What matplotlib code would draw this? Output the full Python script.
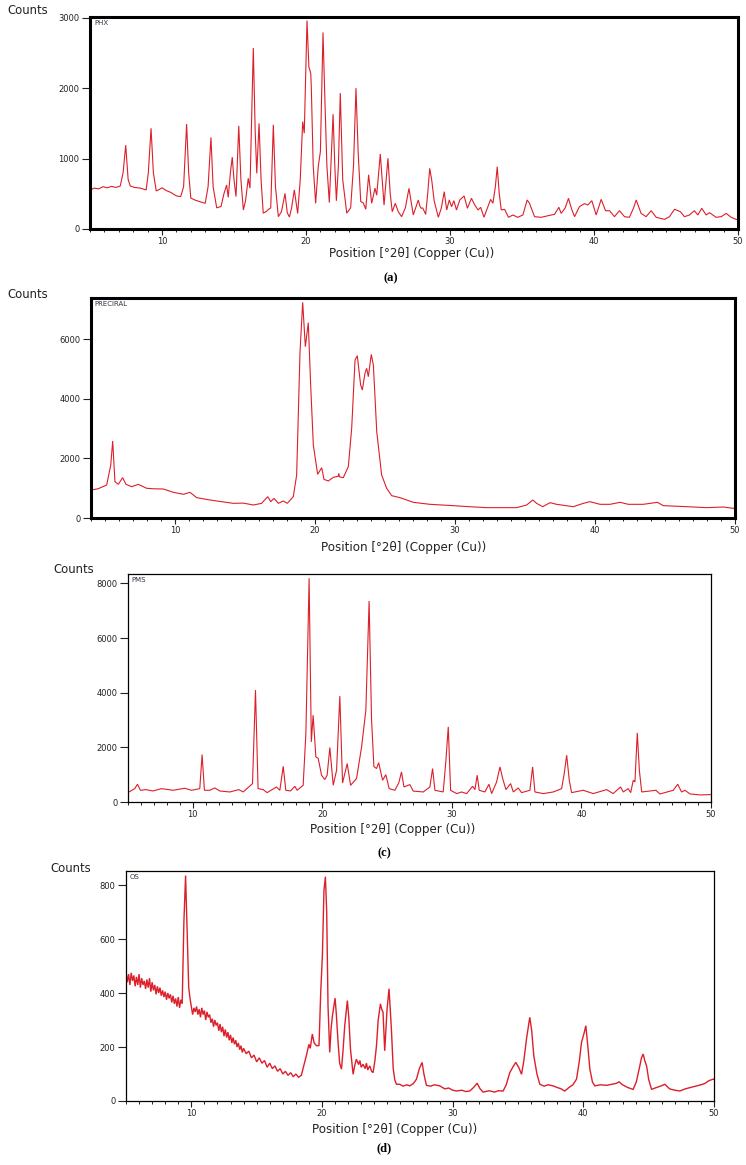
from __future__ import annotations

import matplotlib

matplotlib.use("Agg")
import matplotlib.pyplot as plt
from matplotlib.ticker import MultipleLocator

# ---- data (2theta in degrees, intensity in counts) ----
phx_two_theta = [
    5.0, 5.3, 5.6, 5.9, 6.2, 6.5, 6.8, 7.1, 7.3, 7.48, 7.65, 7.8, 8.1, 8.5, 8.9, 9.05, 9.24, 9.4,
    9.6, 9.8, 10.0, 10.3, 10.6, 11.0, 11.3, 11.5, 11.71, 11.85, 12.0, 12.3, 12.6, 13.0, 13.2, 13.4,
    13.55, 13.8, 14.1, 14.3, 14.49, 14.6, 14.75, 14.88, 15.0, 15.14, 15.33, 15.48, 15.65, 15.8,
    15.99, 16.11, 16.34, 16.47, 16.58, 16.74, 16.88, 17.03, 17.25, 17.4, 17.55, 17.73, 17.88,
    18.08, 18.3, 18.54, 18.7, 18.85, 19.0, 19.19, 19.3, 19.42, 19.6, 19.77, 19.88, 20.07, 20.2,
    20.33, 20.37, 20.5, 20.67, 20.85, 21.0, 21.18, 21.32, 21.45, 21.62, 21.88, 22.0, 22.11, 22.25,
    22.38, 22.55, 22.83, 23.1, 23.3, 23.47, 23.62, 23.8, 23.98, 24.15, 24.35, 24.56, 24.79, 24.91,
    25.16, 25.42, 25.69, 25.85, 25.99, 26.2, 26.4, 26.64, 26.9, 27.15, 27.45, 27.8, 27.9, 27.99,
    28.1, 28.31, 28.45, 28.59, 28.73, 28.9, 29.19, 29.4, 29.6, 29.77, 29.95, 30.11, 30.27, 30.45,
    30.68, 30.98, 31.21, 31.49, 31.72, 31.95, 32.13, 32.36, 32.6, 32.82, 32.98, 33.15, 33.28,
    33.42, 33.56, 33.79, 34.06, 34.37, 34.71, 35.06, 35.36, 35.52, 35.87, 36.33, 37.03, 37.26,
    37.56, 37.72, 38.0, 38.23, 38.45, 38.65, 38.99, 39.34, 39.57, 39.85, 40.15, 40.5, 40.8, 41.08,
    41.42, 41.77, 42.12, 42.46, 42.75, 42.93, 43.27, 43.62, 43.97, 44.32, 44.9, 45.24, 45.59,
    46.0, 46.28, 46.63, 46.97, 47.21, 47.48, 47.79, 48.02, 48.48, 48.83, 49.18, 49.52, 49.87, 50.0,
]
phx_counts = [
    555, 580, 570, 600, 585, 605, 590, 610, 800, 1190, 700, 610, 590, 580, 555, 800, 1430, 800,
    540, 560, 585, 545, 520, 470, 460, 600, 1490, 800, 440, 410, 390, 365, 600, 1300,
    600, 300, 320, 500, 625, 450, 800, 1020, 700, 460, 1465, 700, 270, 400,
    720, 580, 2570, 1400, 790, 1500, 700, 225, 250, 280, 300, 1480, 600,
    175, 250, 505, 230, 170, 300, 555, 400, 220, 700, 1525, 1360, 2960, 2300,
    2210, 2000, 900, 365, 885, 1100, 2790, 1780, 900, 375, 1630, 900, 400, 900,
    1930, 700, 225, 300, 900, 2000, 1100, 390, 370, 280, 770, 365, 580, 480,
    1065, 340, 1005, 500, 245, 365, 250, 175, 300, 577, 200, 412, 330, 294,
    300, 208, 500, 861, 696, 400, 166, 300, 530, 270, 412, 317, 402, 270,
    412, 469, 294, 436, 341, 270, 308, 166, 300, 421, 365, 600, 885,
    500, 270, 280, 166, 199, 166, 199, 412, 365, 175, 166, 199, 208,
    308, 222, 300, 436, 280, 175, 317, 360, 341, 402, 199, 421, 260, 260,
    175, 260, 175, 166, 300, 412, 222, 175, 260, 166, 137, 175, 280,
    246, 175, 199, 260, 199, 294, 199, 232, 166, 175, 222, 166, 137, 130,
]

precir_two_theta = [
    4.0, 4.5, 5.12, 5.41, 5.55, 5.71, 5.95, 6.26, 6.5, 6.9, 7.38, 7.98, 8.5, 9.17, 9.88, 10.6,
    11.07, 11.55, 12.3, 12.98, 13.6, 14.17, 14.88, 15.6, 16.19, 16.62, 16.84, 17.07, 17.38, 17.74,
    18.02, 18.45, 18.69, 18.93, 19.12, 19.31, 19.52, 19.69, 19.88, 20.19, 20.48, 20.64, 20.95,
    21.31, 21.66, 21.7, 21.75, 22.02, 22.38, 22.62, 22.86, 23.02, 23.26, 23.38, 23.57, 23.69,
    23.81, 24.02, 24.17, 24.41, 24.76, 25.12, 25.48, 26.07, 27.02, 28.21, 29.88, 31.0, 32.26,
    34.4, 35.12, 35.55, 35.83, 36.26, 36.79, 37.26, 38.45, 39.17, 39.64, 40.36, 41.07, 41.79,
    42.38, 43.45, 44.45, 44.88, 46.55, 47.98, 49.17, 49.88, 50.0,
]
precir_counts = [
    940, 980, 1107, 1779, 2584, 1219, 1130, 1353, 1130, 1051, 1130, 996, 980, 973, 862, 795,
    862, 683, 620, 571, 530, 492, 500, 436, 492, 716, 548, 660, 492, 571,
    492, 716, 1443, 5581, 7238, 5749, 6555, 4463, 2450, 1466, 1688, 1298, 1242,
    1366, 1399, 1500, 1380, 1353, 1722, 3010, 5302, 5447, 4463, 4296, 4856, 5023,
    4742, 5490, 5130, 2897, 1443, 996, 749, 683, 526, 459, 414, 380, 347,
    347, 436, 604, 492, 380, 514, 459, 380, 492, 548, 459, 459, 526,
    459, 459, 526, 414, 380, 347, 369, 324, 330,
]

pms_two_theta = [
    5.0, 5.08, 5.52, 5.73, 5.96, 6.37, 6.93, 7.58, 8.48, 9.38, 9.9, 10.54, 10.72, 10.9, 11.31,
    11.7, 12.08, 12.86, 13.55, 13.89, 14.61, 14.84, 15.04, 15.43, 15.74, 16.46, 16.72, 16.98,
    17.18, 17.54, 17.88, 18.05, 18.52, 18.73, 18.98, 19.15, 19.29, 19.5, 19.68, 19.94, 20.19,
    20.37, 20.58, 20.84, 21.1, 21.35, 21.56, 21.92, 22.18, 22.64, 23.03, 23.36, 23.61, 23.8,
    23.98, 24.18, 24.35, 24.65, 24.9, 25.16, 25.6, 25.9, 26.11, 26.3, 26.76, 27.01, 27.79, 28.3,
    28.51, 28.69, 29.33, 29.54, 29.72, 29.9, 30.37, 30.75, 31.14, 31.6, 31.78, 31.95, 32.11,
    32.55, 32.86, 33.07, 33.45, 33.71, 33.92, 34.17, 34.53, 34.74, 35.12, 35.38, 36.02, 36.23,
    36.41, 37.05, 37.82, 38.47, 38.67, 38.86, 39.06, 39.24, 40.14, 40.91, 41.94, 42.45, 43.02,
    43.23, 43.61, 43.8, 44.0, 44.13, 44.31, 44.47, 44.65, 45.75, 46.06, 47.09, 47.43, 47.73,
    47.99, 48.38, 49.15, 50.0,
]
pms_counts = [
    360, 367, 489, 649, 429, 453, 404, 489, 429, 502, 429, 489, 1737, 429, 429,
    514, 404, 367, 453, 367, 673, 4095, 489, 453, 343, 550, 429, 1308,
    429, 404, 575, 429, 612, 2507, 8190, 2199, 3178, 1649, 1600, 979, 821,
    979, 1994, 612, 1162, 3874, 696, 1407, 612, 858, 2016, 3361, 7356, 3000,
    1300, 1224, 1440, 795, 1000, 489, 429, 700, 1100, 550, 637, 400, 367, 550,
    1224, 429, 367, 1528, 2749, 429, 308, 367, 308, 575, 453, 979, 429,
    367, 649, 308, 733, 1283, 858, 453, 673, 367, 514, 343, 429, 1283,
    367, 308, 367, 489, 1040, 1712, 795, 343, 429, 308, 453, 308, 550,
    367, 489, 343, 795, 733, 2529, 1162, 367, 429, 294, 429, 649, 367,
    429, 294, 259, 270,
]

os_two_theta = [
    5.0, 5.1, 5.2, 5.3, 5.4, 5.5, 5.6, 5.7, 5.8, 5.9, 6.0, 6.1, 6.2, 6.3, 6.4, 6.5, 6.6, 6.7,
    6.8, 6.9, 7.0, 7.1, 7.2, 7.3, 7.4, 7.5, 7.6, 7.7, 7.8, 7.9, 8.0, 8.1, 8.2, 8.3, 8.4, 8.5,
    8.6, 8.7, 8.8, 8.9, 9.0, 9.1, 9.2, 9.3, 9.43, 9.56, 9.69, 9.8, 9.9, 10.0, 10.1, 10.2, 10.3,
    10.4, 10.5, 10.6, 10.7, 10.8, 10.9, 11.0, 11.1, 11.2, 11.3, 11.4, 11.5, 11.6, 11.7, 11.8,
    11.9, 12.0, 12.1, 12.2, 12.3, 12.4, 12.5, 12.6, 12.7, 12.8, 12.9, 13.0, 13.1, 13.2, 13.3,
    13.4, 13.5, 13.6, 13.7, 13.8, 13.9, 14.0, 14.2, 14.4, 14.6, 14.8, 15.0, 15.2, 15.4, 15.6,
    15.8, 16.0, 16.2, 16.4, 16.6, 16.8, 17.0, 17.2, 17.4, 17.6, 17.8, 18.0, 18.2, 18.42, 18.6,
    18.8, 19.0, 19.1, 19.26, 19.4, 19.57, 19.77, 19.9, 20.03, 20.15, 20.26, 20.36, 20.46, 20.59,
    20.7, 20.8, 21.0, 21.1, 21.23, 21.35, 21.49, 21.6, 21.74, 21.94, 22.05, 22.18, 22.38, 22.5,
    22.63, 22.8, 22.9, 23.0, 23.14, 23.3, 23.4, 23.5, 23.65, 23.8, 23.91, 24.05, 24.17, 24.3,
    24.47, 24.57, 24.67, 24.8, 24.98, 25.13, 25.22, 25.31, 25.45, 25.57, 25.7, 25.95, 26.2,
    26.5, 26.72, 27.0, 27.23, 27.45, 27.66, 27.8, 27.99, 28.3, 28.6, 29.01, 29.4, 29.7, 30.0,
    30.29, 30.7, 31.0, 31.31, 31.6, 31.87, 32.1, 32.33, 32.8, 33.2, 33.5, 33.86, 34.1, 34.37,
    34.6, 34.83, 35.05, 35.27, 35.45, 35.65, 35.9, 36.05, 36.21, 36.45, 36.67, 37.0, 37.3,
    37.69, 38.0, 38.3, 38.58, 38.9, 39.2, 39.48, 39.7, 39.86, 40.05, 40.19, 40.35, 40.5, 40.7,
    40.88, 41.3, 41.78, 42.2, 42.5, 42.74, 43.0, 43.4, 43.81, 44.05, 44.27, 44.45, 44.58, 44.7,
    44.84, 45.0, 45.22, 45.6, 45.9, 46.24, 46.6, 47.0, 47.39, 47.8, 48.2, 48.67, 49.0, 49.3,
    49.6, 49.94, 50.0,
]
os_counts = [
    480, 440, 470, 430, 475, 445, 465, 425, 460, 430, 470, 420, 455, 430, 445, 415, 450, 420,
    455, 405, 440, 410, 430, 395, 425, 400, 420, 390, 410, 385, 405, 375, 400, 380, 395, 365,
    390, 360, 380, 350, 385, 345, 375, 360, 663, 835, 602, 420, 380, 350, 320, 345, 330,
    350, 320, 340, 310, 345, 320, 335, 300, 330, 310, 320, 290, 305, 275, 300,
    280, 290, 260, 285, 255, 275, 240, 265, 235, 255, 225, 245, 215, 235, 210,
    225, 200, 215, 190, 205, 180, 195, 175, 185, 160, 170, 145, 160, 140, 150,
    125, 140, 120, 130, 110, 120, 100, 110, 95, 105, 90, 100, 88, 95, 130,
    167, 210, 195, 248, 215, 205, 205, 400, 540, 780, 831, 700, 353, 180,
    270, 316, 381, 320, 217, 140, 118, 180, 279, 372, 310, 192, 99, 130,
    155, 135, 150, 125, 136, 120, 140, 115, 130, 110, 105, 150, 205, 300,
    360, 340, 329, 186, 341, 416, 340, 267, 120, 78, 62, 62, 55,
    60, 56, 65, 81, 120, 143, 100, 58, 55, 60, 56, 45, 48, 40,
    37, 40, 35, 37, 50, 66, 45, 33, 38, 33, 38, 37, 60, 105,
    125, 143, 125, 99, 150, 230, 310, 260, 167, 100, 62, 55, 60,
    56, 50, 45, 37, 50, 60, 81, 150, 217, 250, 279, 200, 118, 70,
    56, 60, 58, 62, 65, 71, 60, 50, 43, 70, 118, 160, 174, 150,
    130, 80, 43, 50, 55, 62, 45, 40, 37, 45, 50, 56, 60, 65,
    75, 81, 80,
]

phx_yticks = [0, 1000, 2000, 3000]
precir_yticks = [0, 2000, 4000, 6000]
pms_yticks = [0, 2000, 4000, 6000, 8000]
os_yticks = [0, 200, 400, 600, 800]

FIG_W, FIG_H = 746, 1165
LINE_COLOR = "#dc1f2b"
TEXT_COLOR = "#222222"
X_LABEL = "Position [°2θ] (Copper (Cu))"


def _rect(left, top, right, bottom):
    """Pixel box -> figure fraction rect."""
    return [left / FIG_W, 1 - bottom / FIG_H, (right - left) / FIG_W, (bottom - top) / FIG_H]


def _fig_text(fig, xy, text, **kwargs):
    return fig.text(xy[0] / FIG_W, 1 - xy[1] / FIG_H, text, ha="center", va="center", **kwargs)


def _draw_pattern(fig, box, two_theta, counts, *, name, xlim, ylim, yticks, spine_width,
                  xlabel_xy, counts_xy, tag=None, tag_xy=None, lw=0.8):
    ax = fig.add_axes(_rect(*box))
    ax.plot(two_theta, counts, color=LINE_COLOR, lw=lw, solid_joinstyle="miter")
    ax.set_xlim(*xlim)
    ax.set_ylim(*ylim)
    ax.xaxis.set_major_locator(MultipleLocator(10))
    ax.xaxis.set_minor_locator(MultipleLocator(1))
    ax.set_yticks(yticks)
    ax.tick_params(axis="x", which="major", direction="out", length=4, width=0.8,
                   labelsize=6, pad=2, colors=TEXT_COLOR)
    ax.tick_params(axis="x", which="minor", direction="out", length=2.5, width=0.6)
    ax.tick_params(axis="y", direction="out", length=6, width=0.8, labelsize=6, pad=1.5,
                   colors=TEXT_COLOR)
    for spine in ax.spines.values():
        spine.set_linewidth(spine_width)
        spine.set_color("black")
    ax.text(0.006, 0.985, name, transform=ax.transAxes, fontsize=5, va="top", ha="left",
            color="#333344")

    _fig_text(fig, xlabel_xy, X_LABEL, fontsize=8.6, color=TEXT_COLOR)
    _fig_text(fig, counts_xy, "Counts", fontsize=8.4, color=TEXT_COLOR)
    if tag:
        _fig_text(fig, tag_xy, tag, fontsize=9, family="Liberation Serif", weight="bold")
    return ax


def main():
    fig = plt.figure(figsize=(FIG_W / 100, FIG_H / 100), dpi=100)

    _draw_pattern(fig, (90, 17, 738, 229), phx_two_theta, phx_counts, name="PHX",
                  xlim=(5, 50), ylim=(0, 3010), yticks=phx_yticks, spine_width=2.2,
                  xlabel_xy=(412, 254), counts_xy=(28, 11), tag="(a)", tag_xy=(391, 278))
    _draw_pattern(fig, (91, 298, 735, 518), precir_two_theta, precir_counts, name="PRECIRAL",
                  xlim=(4, 50), ylim=(0, 7383), yticks=precir_yticks, spine_width=2.2,
                  xlabel_xy=(404, 548), counts_xy=(28, 295))
    _draw_pattern(fig, (128, 574, 711, 802), pms_two_theta, pms_counts, name="PMS",
                  xlim=(5, 50), ylim=(0, 8344), yticks=pms_yticks, spine_width=0.9,
                  xlabel_xy=(393, 830), counts_xy=(74, 569), tag="(c)", tag_xy=(384, 853))
    _draw_pattern(fig, (126, 871, 714, 1101), os_two_theta, os_counts, name="OS",
                  xlim=(5, 50), ylim=(0, 852), yticks=os_yticks, spine_width=0.9,
                  xlabel_xy=(395, 1130), counts_xy=(71, 869), tag="(d)", tag_xy=(384, 1148),
                  lw=1.0)

    fig.savefig("out.png", dpi=100)
    plt.close(fig)


if __name__ == "__main__":
    main()
